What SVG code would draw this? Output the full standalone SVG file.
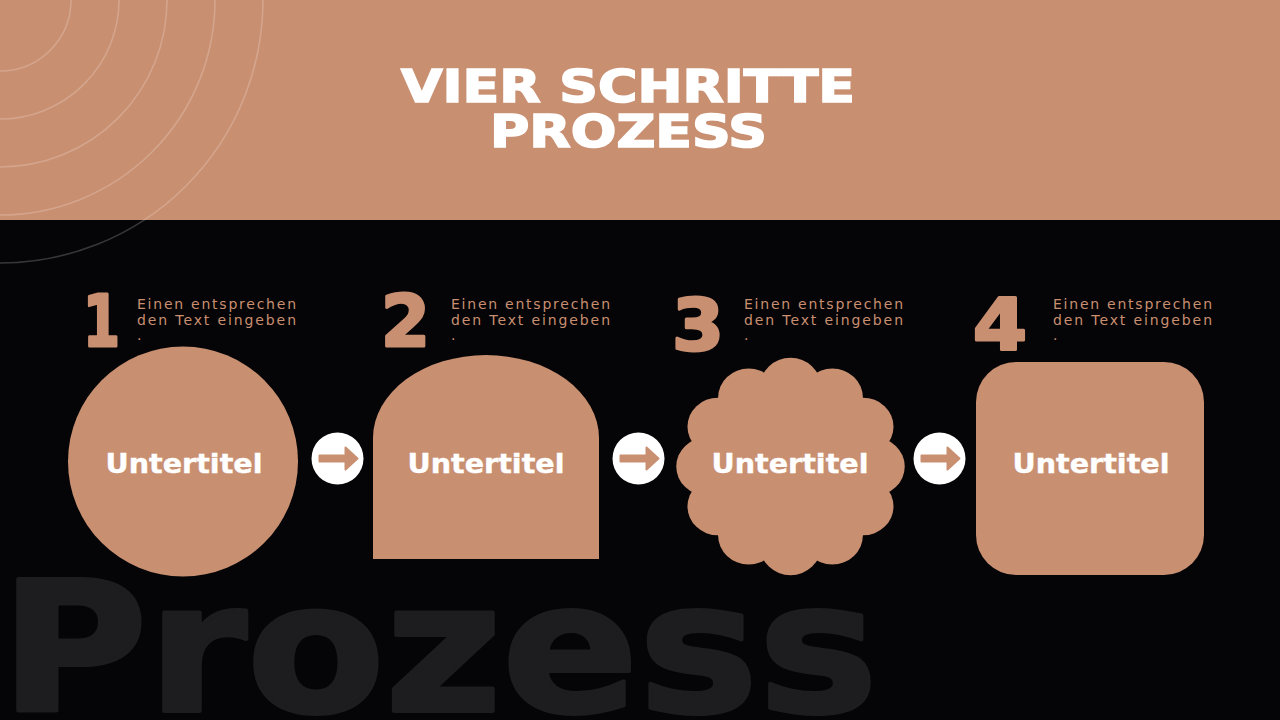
<svg xmlns="http://www.w3.org/2000/svg" width="1280" height="720" viewBox="0 0 1280 720">
  <style>
    .title { font-family: "DejaVu Sans", "Liberation Sans", sans-serif; font-weight: bold; font-size: 44px; fill: #ffffff; stroke: #ffffff; stroke-width: 1.6; }
    .num { font-family: "DejaVu Sans", "Liberation Sans", sans-serif; font-weight: bold; font-size: 72px; fill: #C98F71; stroke: #C98F71; stroke-width: 3; stroke-linejoin: round; }
    .desc { font-family: "DejaVu Sans", "Liberation Sans", sans-serif; font-size: 14px; fill: #C98F71; }
    .sub { font-family: "DejaVu Sans", "Liberation Sans", sans-serif; font-weight: bold; font-size: 26px; fill: #ffffff; stroke: #ffffff; stroke-width: 0.4; text-anchor: middle; }
    .shape { fill: #C98F71; }
    .ring { fill: none; stroke: #ffffff; stroke-opacity: 0.2; stroke-width: 1.6; }
    .bubble { fill: #ffffff; }
    .arrow { fill: #C98F71; stroke: #C98F71; stroke-width: 2; stroke-linejoin: round; }
  </style>

  <!-- background -->
  <rect x="0" y="0" width="1280" height="720" fill="#050406"/>
  <rect x="0" y="0" width="1280" height="220" fill="#C98F71"/>

  <!-- big background word -->
  <text x="0" y="711" font-family="DejaVu Sans, Liberation Sans, sans-serif" font-weight="bold" font-size="180" fill="#1D1C1F" stroke="#1D1C1F" stroke-width="4" stroke-linejoin="round" textLength="878" lengthAdjust="spacingAndGlyphs">Prozess</text>

  <!-- concentric rings -->
  <g id="rings">
    <circle class="ring" cx="0" cy="0" r="71"/>
    <circle class="ring" cx="0" cy="0" r="119"/>
    <circle class="ring" cx="0" cy="0" r="167"/>
    <circle class="ring" cx="0" cy="0" r="215"/>
    <circle class="ring" cx="0" cy="0" r="263"/>
  </g>

  <!-- title -->
  <g id="title">
    <text class="title"><tspan x="401" y="102" textLength="454" lengthAdjust="spacingAndGlyphs">VIER SCHRITTE</tspan><tspan x="490" y="147" textLength="277" lengthAdjust="spacingAndGlyphs">PROZESS</tspan></text>
  </g>

  <!-- step 1 -->
  <g id="step1">
    <text class="num" x="83" y="346" textLength="37" lengthAdjust="spacingAndGlyphs">1</text>
    <text class="desc" x="137" y="309" textLength="159" lengthAdjust="spacing">Einen entsprechen</text>
    <text class="desc" x="137" y="325" textLength="159" lengthAdjust="spacing">den Text eingeben</text>
    <text class="desc" x="137" y="340">.</text>
    <circle class="shape" cx="183" cy="461.5" r="115"/>
    <text class="sub" x="184" y="473" textLength="157" lengthAdjust="spacingAndGlyphs">Untertitel</text>
  </g>

  <!-- step 2 -->
  <g id="step2">
    <text class="num" x="381" y="346" textLength="49" lengthAdjust="spacingAndGlyphs">2</text>
    <text class="desc" x="451" y="309" textLength="159" lengthAdjust="spacing">Einen entsprechen</text>
    <text class="desc" x="451" y="325" textLength="159" lengthAdjust="spacing">den Text eingeben</text>
    <text class="desc" x="451" y="340">.</text>
    <path class="shape" d="M373,559 V438 A113,83 0 0 1 599,438 V559 Z"/>
    <text class="sub" x="486" y="473" textLength="157" lengthAdjust="spacingAndGlyphs">Untertitel</text>
  </g>

  <!-- step 3 -->
  <g id="step3">
    <text class="num" x="672" y="350" textLength="52" lengthAdjust="spacingAndGlyphs">3</text>
    <text class="desc" x="744" y="309" textLength="159" lengthAdjust="spacing">Einen entsprechen</text>
    <text class="desc" x="744" y="325" textLength="159" lengthAdjust="spacing">den Text eingeben</text>
    <text class="desc" x="744" y="340">.</text>
    <g class="shape" transform="translate(790.5,466.5) scale(1.02,0.97)">
      <circle cx="0" cy="0" r="84"/>
      <circle cx="0" cy="-82" r="30"/>
      <circle cx="41" cy="-71" r="30"/>
      <circle cx="71" cy="-41" r="30"/>
      <circle cx="82" cy="0" r="30"/>
      <circle cx="71" cy="41" r="30"/>
      <circle cx="41" cy="71" r="30"/>
      <circle cx="0" cy="82" r="30"/>
      <circle cx="-41" cy="71" r="30"/>
      <circle cx="-71" cy="41" r="30"/>
      <circle cx="-82" cy="0" r="30"/>
      <circle cx="-71" cy="-41" r="30"/>
      <circle cx="-41" cy="-71" r="30"/>
    </g>
    <text class="sub" x="790" y="473" textLength="157" lengthAdjust="spacingAndGlyphs">Untertitel</text>
  </g>

  <!-- step 4 -->
  <g id="step4">
    <text class="num" x="973" y="349" textLength="54" lengthAdjust="spacingAndGlyphs">4</text>
    <text class="desc" x="1053" y="309" textLength="159" lengthAdjust="spacing">Einen entsprechen</text>
    <text class="desc" x="1053" y="325" textLength="159" lengthAdjust="spacing">den Text eingeben</text>
    <text class="desc" x="1053" y="340">.</text>
    <rect class="shape" x="976" y="362" width="228" height="213" rx="40" ry="40"/>
    <text class="sub" x="1091" y="473" textLength="157" lengthAdjust="spacingAndGlyphs">Untertitel</text>
  </g>

  <!-- connectors -->
  <g id="connectors">
    <g transform="translate(337.5,458.5)">
      <circle class="bubble" r="26"/>
      <path class="arrow" d="M-18,-3 H8 V-11 L20,0 L8,11 V3 H-18 Z"/>
    </g>
    <g transform="translate(638.5,458.5)">
      <circle class="bubble" r="26"/>
      <path class="arrow" d="M-18,-3 H8 V-11 L20,0 L8,11 V3 H-18 Z"/>
    </g>
    <g transform="translate(939.5,458.5)">
      <circle class="bubble" r="26"/>
      <path class="arrow" d="M-18,-3 H8 V-11 L20,0 L8,11 V3 H-18 Z"/>
    </g>
  </g>
</svg>
